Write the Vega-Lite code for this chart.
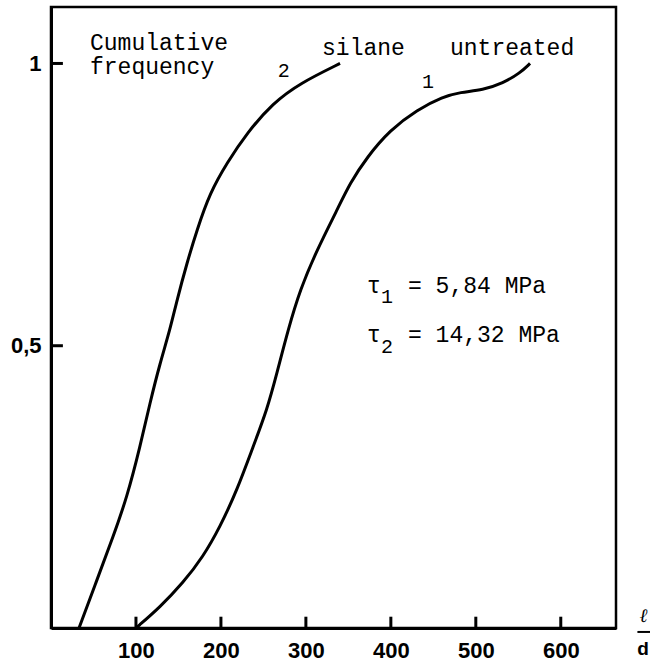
{
  "$schema": "https://vega.github.io/schema/vega-lite/v6.json",
  "autosize": "none",
  "width": 565,
  "height": 621,
  "padding": {"left": 51, "top": 7, "right": 34, "bottom": 35},
  "background": "white",
  "config": {
    "view": {"stroke": "black", "strokeWidth": 2.5},
    "axis": {
      "grid": false,
      "title": null,
      "domainColor": "black",
      "domainWidth": 3,
      "ticks": false,
      "tickSize": 0,
      "labelColor": "black",
      "labelFont": "Liberation Sans",
      "labelFontWeight": "bold",
      "labelFontSize": 22
    }
  },
  "datasets": {
    "curves": [
      {"curve": "2 silane", "x": 33, "y": 0},
      {"curve": "2 silane", "x": 54, "y": 0.085},
      {"curve": "2 silane", "x": 73, "y": 0.161},
      {"curve": "2 silane", "x": 89.5, "y": 0.232},
      {"curve": "2 silane", "x": 104.8, "y": 0.321},
      {"curve": "2 silane", "x": 116.5, "y": 0.399},
      {"curve": "2 silane", "x": 128.3, "y": 0.469},
      {"curve": "2 silane", "x": 140, "y": 0.528},
      {"curve": "2 silane", "x": 148.3, "y": 0.581},
      {"curve": "2 silane", "x": 160.1, "y": 0.647},
      {"curve": "2 silane", "x": 171.8, "y": 0.705},
      {"curve": "2 silane", "x": 187.1, "y": 0.771},
      {"curve": "2 silane", "x": 207.2, "y": 0.824},
      {"curve": "2 silane", "x": 230.7, "y": 0.877},
      {"curve": "2 silane", "x": 261.3, "y": 0.93},
      {"curve": "2 silane", "x": 293.1, "y": 0.965},
      {"curve": "2 silane", "x": 340.2, "y": 1.0},
      {"curve": "1 untreated", "x": 100, "y": 0},
      {"curve": "1 untreated", "x": 128.3, "y": 0.037},
      {"curve": "1 untreated", "x": 155.4, "y": 0.08},
      {"curve": "1 untreated", "x": 178.9, "y": 0.126},
      {"curve": "1 untreated", "x": 198.9, "y": 0.179},
      {"curve": "1 untreated", "x": 218.9, "y": 0.244},
      {"curve": "1 untreated", "x": 237.8, "y": 0.321},
      {"curve": "1 untreated", "x": 254.2, "y": 0.386},
      {"curve": "1 untreated", "x": 266, "y": 0.452},
      {"curve": "1 untreated", "x": 279, "y": 0.528},
      {"curve": "1 untreated", "x": 293.1, "y": 0.599},
      {"curve": "1 untreated", "x": 313.1, "y": 0.67},
      {"curve": "1 untreated", "x": 336.6, "y": 0.74},
      {"curve": "1 untreated", "x": 351.9, "y": 0.788},
      {"curve": "1 untreated", "x": 371.9, "y": 0.834},
      {"curve": "1 untreated", "x": 399, "y": 0.882},
      {"curve": "1 untreated", "x": 430.8, "y": 0.918},
      {"curve": "1 untreated", "x": 461.4, "y": 0.941},
      {"curve": "1 untreated", "x": 481.4, "y": 0.949},
      {"curve": "1 untreated", "x": 508.5, "y": 0.953},
      {"curve": "1 untreated", "x": 532, "y": 0.965},
      {"curve": "1 untreated", "x": 552, "y": 0.983},
      {"curve": "1 untreated", "x": 563.8, "y": 1.0}
    ],
    "xticks": [
      {"x": 100, "y": 0, "y2": 0.02},
      {"x": 200, "y": 0, "y2": 0.02},
      {"x": 300, "y": 0, "y2": 0.02},
      {"x": 400, "y": 0, "y2": 0.02},
      {"x": 500, "y": 0, "y2": 0.02},
      {"x": 600, "y": 0, "y2": 0.02}
    ],
    "yticks": [
      {"x": 0, "x2": 14, "y": 0.5},
      {"x": 0, "x2": 14, "y": 1}
    ],
    "bigText": [
      {"x": 45.9, "y": 1.024, "label": "Cumulative"},
      {"x": 45.9, "y": 0.982, "label": "frequency"},
      {"x": 319, "y": 1.015, "label": "silane"},
      {"x": 469.6, "y": 1.015, "label": "untreated"},
      {"x": 371.9, "y": 0.593, "label": "τ"},
      {"x": 420.2, "y": 0.593, "label": "= 5,84 MPa"},
      {"x": 371.9, "y": 0.507, "label": "τ"},
      {"x": 420.2, "y": 0.507, "label": "= 14,32 MPa"}
    ],
    "smallText": [
      {"x": 274, "y": 0.976, "label": "2"},
      {"x": 443.7, "y": 0.957, "label": "1"},
      {"x": 395.5, "y": 0.576, "label": "1"},
      {"x": 395.5, "y": 0.487, "label": "2"}
    ],
    "ellText": [
      {"x": 697.4, "y": 0.0106, "label": "ℓ"}
    ],
    "dText": [
      {"x": 696.8, "y": -0.0478, "label": "d"}
    ],
    "bar": [
      {"x": 690.2, "x2": 705.5, "y": -0.007}
    ]
  },
  "layer": [
    {
      "data": {"name": "curves"},
      "mark": {"type": "line", "interpolate": "basis", "color": "black", "strokeWidth": 3},
      "encoding": {
        "x": {
          "field": "x", "type": "quantitative",
          "scale": {"domain": [0, 665], "nice": false, "zero": false},
          "axis": {"values": [100, 200, 300, 400, 500, 600], "ticks": false, "labelPadding": 12, "labelFontSize": 22}
        },
        "y": {
          "field": "y", "type": "quantitative",
          "scale": {"domain": [0, 1.1], "nice": false},
          "axis": {"values": [0.5, 1], "ticks": false, "labelPadding": 10, "labelFontSize": 22,
                   "labelExpr": "replace(format(datum.value, '.1~f'), '.', ',')"}
        },
        "detail": {"field": "curve"}
      }
    },
    {
      "data": {"name": "xticks"},
      "mark": {"type": "rule", "color": "black", "strokeWidth": 3},
      "encoding": {
        "x": {"field": "x", "type": "quantitative"},
        "y": {"field": "y", "type": "quantitative"},
        "y2": {"field": "y2"}
      }
    },
    {
      "data": {"name": "yticks"},
      "mark": {"type": "rule", "color": "black", "strokeWidth": 3},
      "encoding": {
        "x": {"field": "x", "type": "quantitative"},
        "x2": {"field": "x2"},
        "y": {"field": "y", "type": "quantitative"}
      }
    },
    {
      "data": {"name": "bigText"},
      "mark": {"type": "text", "font": "Liberation Mono", "fontSize": 23, "align": "left", "baseline": "alphabetic", "color": "black"},
      "encoding": {
        "x": {"field": "x", "type": "quantitative"},
        "y": {"field": "y", "type": "quantitative"},
        "text": {"field": "label"}
      }
    },
    {
      "data": {"name": "smallText"},
      "mark": {"type": "text", "font": "Liberation Mono", "fontSize": 20, "align": "center", "baseline": "alphabetic", "color": "black"},
      "encoding": {
        "x": {"field": "x", "type": "quantitative"},
        "y": {"field": "y", "type": "quantitative"},
        "text": {"field": "label"}
      }
    },
    {
      "data": {"name": "ellText"},
      "mark": {"type": "text", "font": "DejaVu Serif", "fontStyle": "italic", "fontSize": 19, "align": "center", "baseline": "alphabetic", "color": "black"},
      "encoding": {
        "x": {"field": "x", "type": "quantitative"},
        "y": {"field": "y", "type": "quantitative"},
        "text": {"field": "label"}
      }
    },
    {
      "data": {"name": "dText"},
      "mark": {"type": "text", "font": "Liberation Sans", "fontWeight": "bold", "fontSize": 19, "align": "center", "baseline": "alphabetic", "color": "black"},
      "encoding": {
        "x": {"field": "x", "type": "quantitative"},
        "y": {"field": "y", "type": "quantitative"},
        "text": {"field": "label"}
      }
    },
    {
      "data": {"name": "bar"},
      "mark": {"type": "rule", "color": "black", "strokeWidth": 2},
      "encoding": {
        "x": {"field": "x", "type": "quantitative"},
        "x2": {"field": "x2"},
        "y": {"field": "y", "type": "quantitative"}
      }
    }
  ]
}
